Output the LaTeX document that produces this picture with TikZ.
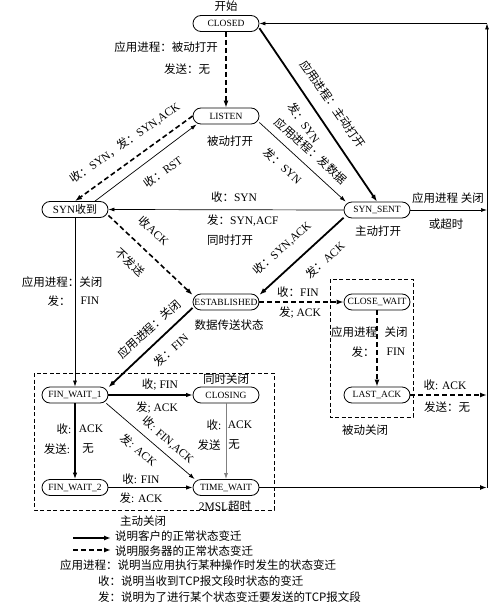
\documentclass[tikz,border=0pt]{standalone}
\usepackage{fontspec}
\setmainfont{Liberation Serif}
\newfontfamily\zhfont{Noto Sans CJK SC}
\usetikzlibrary{arrows.meta}
\newcommand\zh[1]{{\zhfont #1}}
\begin{document}
\begin{tikzpicture}[x=1pt,y=-1pt,
 st/.style={draw, line width=0.8pt, rounded corners=8pt, minimum width=66pt, minimum height=16pt, inner sep=0pt, font=\fontsize{9.5}{10}\selectfont},
 lab/.style={inner sep=0pt, font=\fontsize{11.5}{13}\selectfont},
 thk/.style={line width=1.8pt, -{Latex[length=7pt,width=5pt]}},
 dsh/.style={line width=1.6pt, dash pattern=on 5pt off 3pt, -{Latex[length=7pt,width=5pt]}},
 thn/.style={line width=0.7pt, -{Latex[length=6pt,width=4pt]}},
 med/.style={line width=1.1pt, -{Latex[length=6.5pt,width=4.5pt]}},
 grayln/.style={line width=0.8pt, draw=gray, -{Latex[length=6pt,width=4pt]}, gray},
 dbox/.style={draw, line width=0.7pt, dash pattern=on 4pt off 2.5pt}]
\useasboundingbox (0,0) rectangle (500,604);

% dashed boxes
\draw[dbox] (34,373) rectangle (274,510);
\draw[dbox] (330,279) rectangle (413,417);

% states
\node[st] (CLOSED) at (226,23.5) {CLOSED};
\node[st] (LISTEN) at (226,116) {LISTEN};
\node[st,font=\fontsize{11}{12}\selectfont] (SYNR) at (75,209.5) {SYN\zh{收到}};
\node[st] (SYNS) at (377,210) {SYN\_SENT};
\node[st] (EST) at (226,302) {ESTABLISHED};
\node[st] (CW) at (377,302) {CLOSE\_WAIT};
\node[st] (LA) at (377,395) {LAST\_ACK};
\node[st] (FW1) at (75,395) {FIN\_WAIT\_1};
\node[st] (CLOSING) at (226,395) {CLOSING};
\node[st] (FW2) at (75,487.5) {FIN\_WAIT\_2};
\node[st] (TW) at (226,487.5) {TIME\_WAIT};

\coordinate (tr) at (487,23.5);
\coordinate (br) at (487,487.5);
\coordinate (r1) at (487,210);
\coordinate (r2) at (487,395);

% transitions
\draw[dsh] (CLOSED.south) -- (LISTEN.north);
\draw[thk] (CLOSED.-8) -- (SYNS.north);
\draw[thn] (LISTEN.-11) -- (SYNS.165);
\draw[dsh] (LISTEN.west) -- (SYNR.north);
\draw[thn] ([xshift=20pt]SYNR.north) -- ([xshift=4pt]LISTEN.south west);
\draw[thn] (SYNS.west) -- (SYNR.east);
\draw[dsh] (SYNR.-10) -- (EST.168);
\draw[thk] (SYNS.193) -- (EST.12);
\draw[thn] (SYNS.east) -- (r1);
\draw[dsh] (EST.east) -- (CW.west);
\draw[thk] (EST.190) -- (FW1.13);
\draw[thn] (SYNR.south) -- (FW1.north);
\draw[dsh] (CW.south) -- (LA.north);
\draw[dsh] (LA.east) -- (r2);
\draw[med] (FW1.east) -- (CLOSING.west);
\draw[med] (FW1.south) -- (FW2.north);
\draw[thn] (FW1.-15) -- (TW.165);
\draw[grayln] (CLOSING.south) -- (TW.north);
\draw[med] (FW2.east) -- (TW.west);
\draw[thk] (TW.east) -- (br);
\draw[thn] (br) -- (tr);
\draw[thn] (tr) -- (CLOSED.east);

% labels
\node[lab] (t0) at (226,6) {\zh{开始}};
\node[lab] (t1) at (166,47) {\zh{应用进程：被动打开}};
\node[lab] (t2) at (187,69) {\zh{发送：无}};
\node[lab] (t3) at (230,141) {\zh{被动打开}};
\node[lab,rotate=-55] (t4) at (333,104) {\zh{应用进程：主动打开}};
\node[lab,rotate=-55] (t5) at (304,123) {\zh{发：}SYN};
\node[lab,rotate=-42] (t6) at (311,151) {\zh{应用进程：发数据}};
\node[lab,rotate=-42] (t7) at (283,166) {\zh{发：}SYN};
\node[lab,rotate=35] (t8) at (125,143) {\zh{收：}SYN\zh{，发：}SYN,ACK};
\node[lab,rotate=36] (t9) at (163,172) {\zh{收：}RST};
\node[lab,rotate=-43] (t10) at (154,231) {\zh{收}ACK};
\node[lab,rotate=-43] (t11) at (130,262) {\zh{不发送}};
\node[lab] (t12) at (234,197) {\zh{收：}SYN};
\node[lab,anchor=west] (t13) at (207,221) {\zh{发：}SYN,ACF};
\node[lab,anchor=west] (t14) at (207,240) {\zh{同时打开}};
\node[lab,rotate=42] (t15) at (282,248) {\zh{收：}SYN,ACK};
\node[lab,rotate=42] (t16) at (325,260) {\zh{发：}ACK};
\node[lab] (t17) at (378,231) {\zh{主动打开}};
\node[lab] (t18) at (448,198) {\zh{应用进程 关闭}};
\node[lab] (t19) at (446,224) {\zh{或超时}};
\node[lab] (t20) at (62,282) {\zh{应用进程：关闭}};
\node[lab] (t21) at (59,301) {\zh{发：}};
\node[lab] (t22) at (90,301) {FIN};
\node[lab] (t23) at (229,325) {\zh{数据传送状态}};
\node[lab,rotate=42] (t24) at (149,329) {\zh{应用进程：关闭}};
\node[lab,rotate=42] (t25) at (171,350) {\zh{发：}FIN};
\node[lab] (t26) at (298,292) {\zh{收：}FIN};
\node[lab] (t27) at (300,313) {\zh{发}; ACK};
\node[lab] (t28) at (354,332) {\zh{应用进程}};
\node[lab] (t29) at (396,332) {\zh{关闭}};
\node[lab] (t30) at (363,352) {\zh{发：}};
\node[lab] (t31) at (396,352) {FIN};
\node[lab] (t32) at (445,385) {\zh{收}: ACK};
\node[lab] (t33) at (447,407) {\zh{发送：无}};
\node[lab] (t34) at (365,430) {\zh{被动关闭}};
\node[lab] (t35) at (226,379) {\zh{同时关闭}};
\node[lab] (t36) at (160,385) {\zh{收}; FIN};
\node[lab] (t37) at (157,408) {\zh{发}; ACK};
\node[lab] (t38) at (64,429) {\zh{收}:};
\node[lab] (t39) at (91,429) {ACK};
\node[lab] (t40) at (57,449) {\zh{发送}:};
\node[lab] (t41) at (88,449) {\zh{无}};
\node[lab,rotate=-41] (t42) at (168,440) {\zh{收}: FIN,ACK};
\node[lab,rotate=-41] (t43) at (139,450) {\zh{发}: ACK};
\node[lab] (t44) at (214,425) {\zh{收}:};
\node[lab] (t45) at (240,425) {ACK};
\node[lab] (t46) at (209,445) {\zh{发送}};
\node[lab] (t47) at (234,445) {\zh{无}};
\node[lab] (t48) at (141,479) {\zh{收}: FIN};
\node[lab] (t49) at (141,498) {\zh{发}: ACK};
\node[lab] (t50) at (225,506) {2MSL\zh{超时}};
\node[lab] (t51) at (143,521) {\zh{主动关闭}};

% legend
\coordinate (l1a) at (73,538);
\coordinate (l1b) at (111,538);
\coordinate (l2a) at (73,550);
\coordinate (l2b) at (111,550);
\draw[thk] (l1a) -- (l1b);
\draw[dsh] (l2a) -- (l2b);
\node[lab,anchor=west] (g1) at (115,536) {\zh{说明客户的正常状态变迁}};
\node[lab,anchor=west] (g2) at (115,551) {\zh{说明服务器的正常状态变迁}};
\node[lab,anchor=west] (g3) at (60,565) {\zh{应用进程：说明当应用执行某种操作时发生的状态变迁}};
\node[lab,anchor=west] (g4) at (98,581) {\zh{收：说明当收到TCP报文段时状态的变迁}};
\node[lab,anchor=west] (g5) at (98,597) {\zh{发：说明为了进行某个状态变迁要发送的TCP报文段}};
\end{tikzpicture}
\end{document}
